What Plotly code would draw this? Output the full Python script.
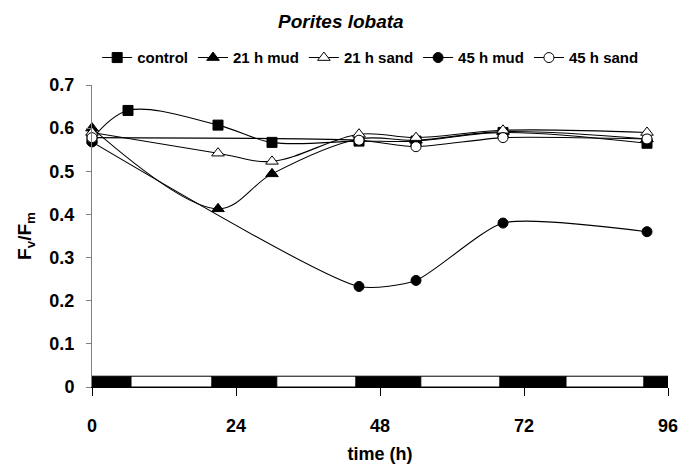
import plotly.graph_objects as go

# ---- data ----
time_control = [0, 6, 21, 30, 44.5, 54, 68.5, 92.5]
control = [0.575, 0.641, 0.607, 0.567, 0.570, 0.570, 0.590, 0.565]

time_21 = [0, 21, 30, 44.5, 54, 68.5, 92.5]
mud_21h = [0.600, 0.413, 0.494, 0.575, 0.572, 0.592, 0.575]
sand_21h = [0.590, 0.542, 0.523, 0.586, 0.578, 0.595, 0.590]

time_45 = [0, 44.5, 54, 68.5, 92.5]
mud_45h = [0.568, 0.233, 0.247, 0.380, 0.360]
sand_45h = [0.578, 0.572, 0.557, 0.578, 0.575]

# light/dark cycle bar: boundaries (h) and colour of each block
cycle_edges = [0, 6.5, 20, 30.8, 44, 54.8, 68, 79, 92, 96]
cycle_dark = [True, False, True, False, True, False, True, False, True]
cycle_height = 0.025

x_ticks = [0, 24, 48, 72, 96]
y_ticks = [0, 0.1, 0.2, 0.3, 0.4, 0.5, 0.6, 0.7]

FONT = "Liberation Sans, Arial, sans-serif"

fig = go.Figure()

# light/dark bar along the bottom
mids = [(a + b) / 2 for a, b in zip(cycle_edges[:-1], cycle_edges[1:])]
widths = [b - a for a, b in zip(cycle_edges[:-1], cycle_edges[1:])]
fig.add_trace(go.Bar(
    x=mids, y=[cycle_height] * len(mids), width=widths, base=0,
    marker=dict(color=["black" if d else "white" for d in cycle_dark],
                line=dict(color="black", width=1)),
    showlegend=False, hoverinfo="skip"))

series = [
    ("control", time_control, control, "square", "black", 10, 1.0),
    ("21 h mud", time_21, mud_21h, "triangle-up", "black", 11, 1.0),
    ("21 h sand", time_21, sand_21h, "triangle-up", "white", 11, 1.0),
    ("45 h mud", time_45, mud_45h, "circle", "black", 10, 0.6),
    ("45 h sand", time_45, sand_45h, "circle", "white", 10, 0.6),
]
for name, t, v, sym, fill, size, smooth in series:
    fig.add_trace(go.Scatter(
        x=t, y=v, name=name, mode="lines+markers",
        line=dict(color="black", width=1.1, shape="spline", smoothing=smooth),
        marker=dict(symbol=sym, color=fill, size=size,
                    line=dict(color="black", width=1)),
        cliponaxis=False))

fig.update_layout(
    width=690, height=472,
    margin=dict(l=92, r=15, t=85, b=81),
    plot_bgcolor="white", paper_bgcolor="white",
    font=dict(family=FONT, size=18, color="black", weight="bold"),
    bargap=0,
    hovermode=False,
    title=dict(text="<b><i>Porites lobata</i></b>", x=0.494, xref="container",
               y=0.955, yref="container", xanchor="center", yanchor="middle",
               font=dict(size=19)),
    legend=dict(orientation="h", x=0.009, xanchor="left", y=1.09,
                yanchor="middle",
                font=dict(size=15, family=FONT, weight="bold"),
                itemwidth=30, tracegroupgap=0, bgcolor="rgba(0,0,0,0)"),
    xaxis=dict(range=[0, 96], tickvals=x_ticks, ticks="outside", ticklen=8,
               tickcolor="black", showline=True, linecolor="black",
               linewidth=1, showgrid=False, zeroline=False,
               tickfont=dict(size=18, weight="bold"), ticklabelstandoff=14,
               title=dict(text="time (h)",
                          font=dict(size=18, weight="bold"), standoff=12)),
    yaxis=dict(range=[0, 0.7], tickvals=y_ticks,
               ticktext=[("%g" % v) for v in y_ticks],
               ticks="outside", ticklen=5, tickcolor="#808080",
               showline=True, linecolor="#808080", linewidth=1,
               showgrid=False, zeroline=False,
               tickfont=dict(size=18, weight="bold"), ticklabelstandoff=8,
               title=dict(text="F<sub>v</sub>/F<sub>m</sub>",
                          font=dict(size=19, weight="bold"), standoff=12)),
)

fig.write_html("out.html",
               config={"displayModeBar": False, "staticPlot": True},
               post_script="document.body.style.margin='0';"
                           "document.body.style.overflow='hidden';")
